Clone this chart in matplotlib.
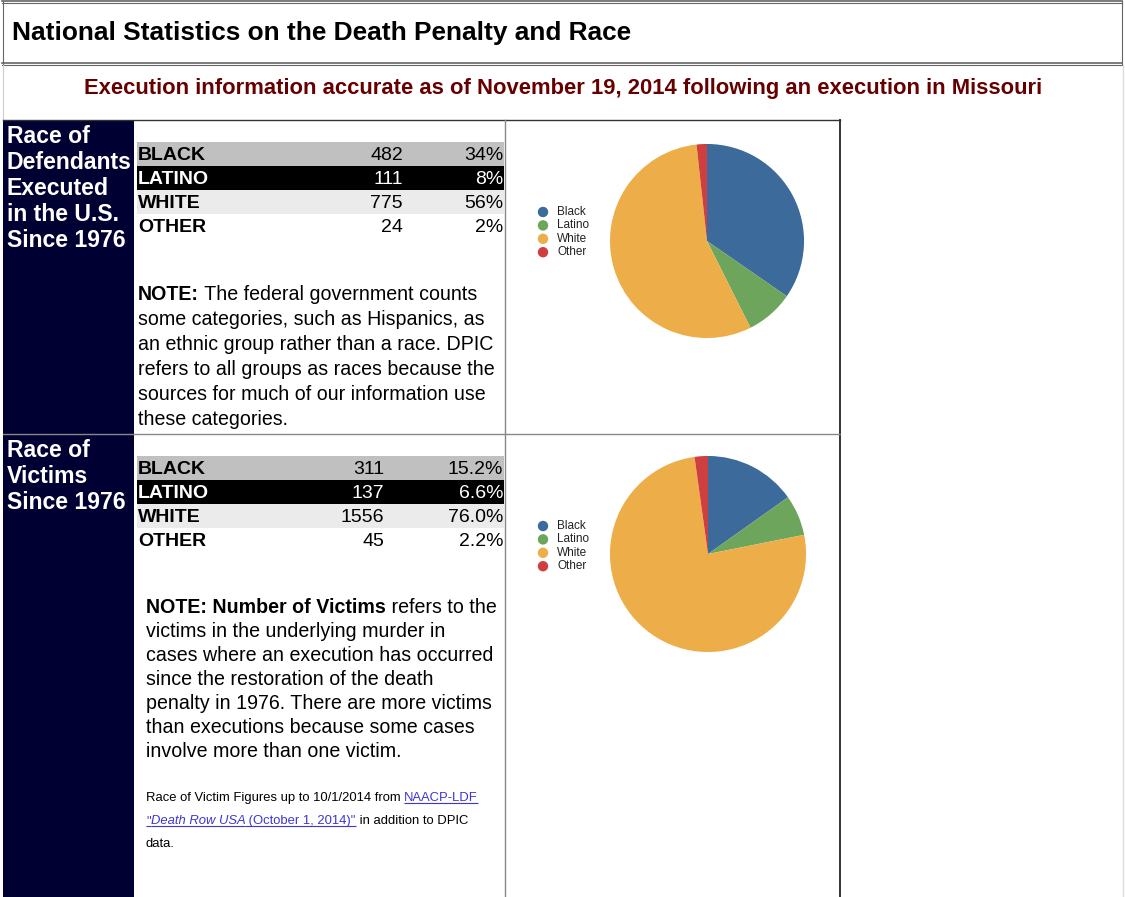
import matplotlib
matplotlib.use("Agg")
import matplotlib.pyplot as plt
from matplotlib.patches import Rectangle, Circle

# ---------------- data ----------------
categories = ["BLACK", "LATINO", "WHITE", "OTHER"]
legend_labels = ["Black", "Latino", "White", "Other"]
def_counts = [482, 111, 775, 24]
def_pcts = ["34%", "8%", "56%", "2%"]
vic_counts = [311, 137, 1556, 45]
vic_pcts = ["15.2%", "6.6%", "76.0%", "2.2%"]
pie_colors = ["#3b6a9b", "#6ca55b", "#edae4a", "#cf3f3f"]

title = "National Statistics on the Death Penalty and Race"
subtitle = "Execution information accurate as of November 19, 2014 following an execution in Missouri"
def_header = ["Race of", "Defendants", "Executed", "in the U.S.", "Since 1976"]
vic_header = ["Race of", "Victims", "Since 1976"]
note1 = [
    [("NOTE:", True), (" The federal government counts", False)],
    [("some categories, such as Hispanics, as", False)],
    [("an ethnic group rather than a race. DPIC", False)],
    [("refers to all groups as races because the", False)],
    [("sources for much of our information use", False)],
    [("these categories.", False)],
]
note2 = [
    [("NOTE: Number of Victims", True), (" refers to the", False)],
    [("victims in the underlying murder in", False)],
    [("cases where an execution has occurred", False)],
    [("since the restoration of the death", False)],
    [("penalty in 1976. There are more victims", False)],
    [("than executions because some cases", False)],
    [("involve more than one victim.", False)],
]

# ---------------- figure ----------------
W, H = 1125, 897
plt.rcParams['font.family'] = ['Liberation Sans', 'DejaVu Sans']
fig = plt.figure(figsize=(W / 100, H / 100), dpi=100)
fig.patch.set_facecolor("white")
ax = fig.add_axes([0, 0, 1, 1])
ax.set_xlim(0, W)
ax.set_ylim(H, 0)
ax.axis("off")
fig.canvas.draw()
renderer = fig.canvas.get_renderer()

PT = 0.72  # px -> pt at 100 dpi


def text_width(txt, size, weight="normal", style="normal"):
    t1 = ax.text(0, 0, txt + "|", fontsize=size, fontweight=weight, fontstyle=style)
    t2 = ax.text(0, 0, "|", fontsize=size, fontweight=weight, fontstyle=style)
    w = t1.get_window_extent(renderer).width - t2.get_window_extent(renderer).width
    t1.remove()
    t2.remove()
    return w


def draw_runs(x, y, parts, size, color="black"):
    for item in parts:
        txt = item[0]
        weight = "bold" if item[1] else "normal"
        style = item[2] if len(item) > 2 else "normal"
        col = item[3] if len(item) > 3 else color
        underline = item[4] if len(item) > 4 else False
        ax.text(x, y, txt, fontsize=size, fontweight=weight, fontstyle=style,
                color=col, va="baseline", ha="left")
        w = text_width(txt, size, weight, style)
        if underline:
            ax.plot([x, x + w], [y + 2, y + 2], color=col, lw=0.8,
                    solid_capstyle="butt")
        x += w
    return x


# ---------------- header boxes ----------------
gray = "#666666"
ax.plot([2, 1122], [1, 1], color=gray, lw=1.2)
ax.plot([2, 1122], [3, 3], color=gray, lw=0.8)
ax.plot([2, 1122], [63, 63], color=gray, lw=1.2)
ax.plot([2, 1122], [65.5, 65.5], color=gray, lw=0.8)
ax.plot([2.5, 2.5], [1, 65], color=gray, lw=0.8)
ax.plot([1122, 1122], [1, 65], color=gray, lw=0.8)
ax.plot([2.5, 2.5], [65, 120], color="#cccccc", lw=0.8)
ax.plot([1123, 1123], [65, 897], color="#dddddd", lw=1.0)

ax.text(12, 40, title, fontsize=26.3 * PT, fontweight="bold", color="black",
        va="baseline", ha="left")
ax.text(563, 94, subtitle, fontsize=22 * PT, fontweight="bold", color="#660000",
        va="baseline", ha="center")

# ---------------- table frame ----------------
navy = "#000033"
ax.add_patch(Rectangle((3, 120), 131, H - 120, facecolor=navy, edgecolor="none"))
ax.plot([3, 840], [120, 120], color="#333333", lw=1.0)
ax.plot([840, 840], [120, H], color="#333333", lw=1.4)
ax.plot([505, 505], [120, H], color="#888888", lw=1.0)
ax.plot([3, 840], [434, 434], color="#888888", lw=1.0)

for i, line in enumerate(def_header):
    ax.text(7, 143 + 26 * i, line, fontsize=23 * PT, fontweight="bold",
            color="white", va="baseline", ha="left")
for i, line in enumerate(vic_header):
    ax.text(7, 457 + 26 * i, line, fontsize=23 * PT, fontweight="bold",
            color="white", va="baseline", ha="left")

band_colors = ["#c0c0c0", "#000000", "#ebebeb", "#ffffff"]
text_colors = ["black", "white", "black", "black"]


def draw_table(top, counts, pcts, num_right):
    for i, cat in enumerate(categories):
        y0 = top + 24 * i
        ax.add_patch(Rectangle((137, y0), 367, 24, facecolor=band_colors[i],
                               edgecolor="none"))
        base = y0 + 18.5
        ax.text(138, base, cat, fontsize=19.5 * PT, fontweight="bold",
                color=text_colors[i], va="baseline", ha="left")
        ax.text(num_right, base, str(counts[i]), fontsize=19.5 * PT,
                color=text_colors[i], va="baseline", ha="right")
        ax.text(503, base, pcts[i], fontsize=19.5 * PT,
                color=text_colors[i], va="baseline", ha="right")


draw_table(142, def_counts, def_pcts, 403)
draw_table(456, vic_counts, vic_pcts, 384)

# ---------------- notes ----------------
for i, parts in enumerate(note1):
    draw_runs(138, 300 + 25 * i, parts, 19.7 * PT)
for i, parts in enumerate(note2):
    draw_runs(146, 613 + 24 * i, parts, 19.6 * PT)

link = "#3d35d6"
src_size = 13 * PT
draw_runs(146, 801, [("Race of Victim Figures up to 10/1/2014 from ", False),
                     ("NAACP-LDF", False, "normal", link, True)], src_size)
draw_runs(146, 824, [("\"", False, "normal", link, True),
                     ("Death Row USA", False, "italic", link, True),
                     (" (October 1, 2014)\"", False, "normal", link, True),
                     (" in addition to DPIC", False)], src_size)
draw_runs(146, 847, [("data.", False)], src_size)

# ---------------- pies ----------------
def draw_pie(cx, cy, r, values, legend_top):
    pax = fig.add_axes([(cx - r) / W, 1 - (cy + r) / H, 2 * r / W, 2 * r / H])
    pax.pie(values, colors=pie_colors, startangle=90, counterclock=False,
            radius=1, wedgeprops=dict(linewidth=0))
    pax.set_xlim(-1.01, 1.01)
    pax.set_ylim(-1.01, 1.01)
    pax.set_aspect("auto")
    pax.axis("off")
    for i, lab in enumerate(legend_labels):
        y = legend_top + 13.4 * i
        ax.add_patch(Circle((543, y), 5.2, facecolor=pie_colors[i], edgecolor="none"))
        ax.text(557, y, lab, fontsize=11.8 * PT, color="#222222",
                va="center", ha="left")


draw_pie(707, 241, 98, def_counts, 212)
draw_pie(708, 554, 99, vic_counts, 526)

fig.savefig("out.png", dpi=100, facecolor="white")
